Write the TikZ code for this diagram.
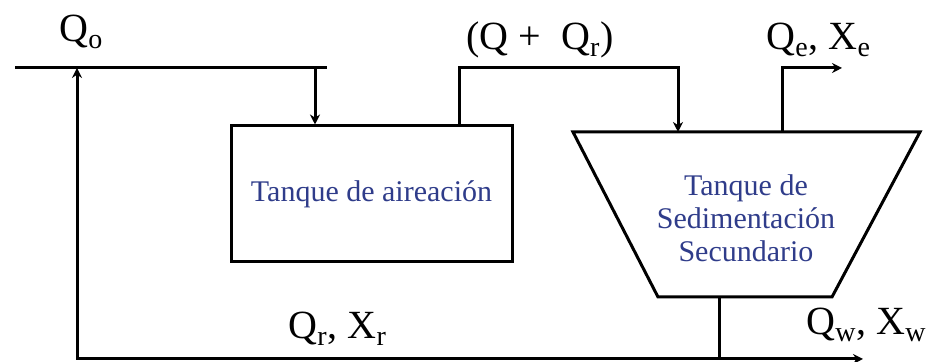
\documentclass[tikz,border=0pt]{standalone}
\usepackage{fontspec}
\setmainfont{Liberation Serif}
\usetikzlibrary{arrows.meta, positioning, calc}
\definecolor{tankblue}{HTML}{2F3C8A}

\begin{document}
\begin{tikzpicture}[x=0.5pt, y=0.5pt, >={Stealth[length=5pt, width=5pt]}, line width=1.5pt,
  flowlabel/.style={font=\fontsize{20}{24}\selectfont, inner sep=0pt, anchor=base west},
  tanktext/.style={font=\fontsize{15}{16.5}\selectfont, text=tankblue, align=center}]
  \useasboundingbox (0,0) rectangle (928,362);

  % Aeration tank
  \node[draw, tanktext, minimum width=140.5pt, minimum height=68pt] (aer) at (371.5,168) {Tanque de aireación};

  % Secondary settler
  \coordinate (sedtl) at (573,230);
  \coordinate (sedtr) at (920,230);
  \coordinate (sedbr) at (832,65);
  \coordinate (sedbl) at (658,65);
  \draw (sedtl) -- (sedtr) -- (sedbr) -- (sedbl) -- cycle;
  \node[tanktext] (sed) at (746,144) {Tanque de\\Sedimentación\\Secundario};

  % Influent
  \coordinate (inlet) at (15,294);
  \coordinate (inend) at (327,294);
  \coordinate (feed) at (315,294);
  \draw (inlet) -- (inend);
  \draw[->] (feed) -- (feed |- aer.north);
  \node[flowlabel] (qo) at (58,320) {Q\textsubscript{o}};

  % Mixed liquor
  \coordinate (aerout) at (459,236);
  \coordinate (sedin) at (678,230);
  \draw[->] (aerout) -- (aerout |- feed) -| (sedin);
  \node[flowlabel] (qmix) at (465,312) {(Q +~ Q\textsubscript{r})};

  % Effluent
  \coordinate (sedout) at (782,230);
  \coordinate (effluent) at (842,294);
  \draw[->] (sedout) |- (effluent);
  \node[flowlabel] (qe) at (765,312) {Q\textsubscript{e}, X\textsubscript{e}};

  % Waste and return sludge
  \coordinate (sedbot) at (719,65);
  \coordinate (retcorner) at (77,3);
  \coordinate (waste) at (863,3);
  \coordinate (retin) at (77,294);
  \draw (sedbot) -- (sedbot |- retcorner);
  \draw[->] (sedbot |- retcorner) -- (retcorner) -- (retin);
  \draw[->] (sedbot |- retcorner) -- (waste);
  \node[flowlabel] (qr) at (287,23) {Q\textsubscript{r}, X\textsubscript{r}};
  \node[flowlabel] (qw) at (805,27) {Q\textsubscript{w}, X\textsubscript{w}};
\end{tikzpicture}
\end{document}
